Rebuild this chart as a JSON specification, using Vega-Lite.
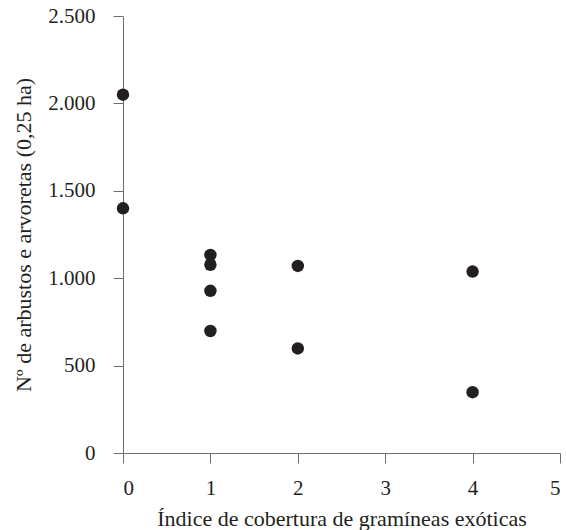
{
  "$schema": "https://vega.github.io/schema/vega-lite/v6.json",
  "width": 437,
  "height": 437,
  "autosize": {"type": "none"},
  "padding": {"left": 123, "top": 16, "right": 6, "bottom": 77},
  "background": "white",
  "config": {
    "view": {"stroke": null},
    "font": "Liberation Serif",
    "axis": {"labelFont": "Liberation Serif", "titleFont": "Liberation Serif"}
  },
  "data": {
    "values": [
      {"indice": 0, "n": 2050},
      {"indice": 0, "n": 1400},
      {"indice": 1, "n": 1133},
      {"indice": 1, "n": 1077},
      {"indice": 1, "n": 928},
      {"indice": 1, "n": 698},
      {"indice": 2, "n": 1070},
      {"indice": 2, "n": 598},
      {"indice": 4, "n": 1038},
      {"indice": 4, "n": 348}
    ]
  },
  "mark": {"type": "point", "filled": true, "shape": "circle", "size": 155, "color": "#231f20", "opacity": 1},
  "encoding": {
    "x": {
      "field": "indice",
      "type": "quantitative",
      "scale": {"domain": [0, 5], "nice": false, "zero": false},
      "axis": {
        "title": "Índice de cobertura de gramíneas exóticas",
        "values": [0, 1, 2, 3, 4, 5],
        "grid": false,
        "domainColor": "#6d6e71",
        "tickColor": "#6d6e71",
        "tickSize": 10,
        "labelFontSize": 21,
        "labelColor": "#231f20",
        "labelPadding": 14,
        "titleFontSize": 22,
        "titleFontWeight": "normal",
        "titleColor": "#231f20",
        "titlePadding": 10
      }
    },
    "y": {
      "field": "n",
      "type": "quantitative",
      "scale": {"domain": [0, 2500], "nice": false},
      "axis": {
        "title": "Nº de arbustos e arvoretas (0,25 ha)",
        "values": [0, 500, 1000, 1500, 2000, 2500],
        "labelExpr": "replace(format(datum.value, ','), ',', '.')",
        "grid": false,
        "domainColor": "#6d6e71",
        "tickColor": "#6d6e71",
        "tickSize": 10,
        "labelFontSize": 21,
        "labelColor": "#231f20",
        "labelPadding": 18,
        "titleFontSize": 22,
        "titleFontWeight": "normal",
        "titleColor": "#231f20",
        "titlePadding": 12
      }
    }
  }
}
